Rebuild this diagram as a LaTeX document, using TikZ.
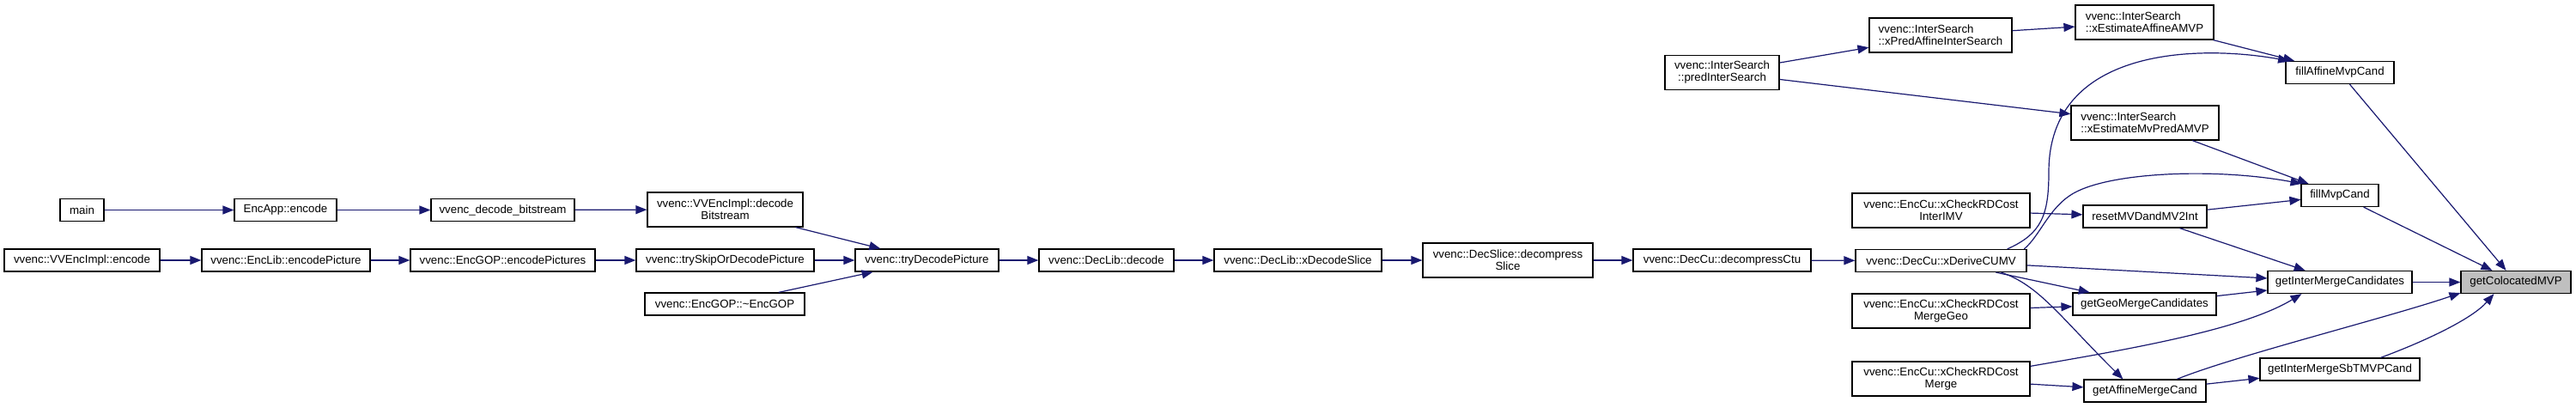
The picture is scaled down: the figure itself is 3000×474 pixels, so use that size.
\documentclass[tikz,border=0pt]{standalone}
\usepackage{fontspec}
\setmainfont{Liberation Sans}
\usepackage{tikz}
\usetikzlibrary{arrows.meta}
\definecolor{edgeblue}{HTML}{191970}
\definecolor{hitgray}{HTML}{BFBFBF}
\begin{document}
\begin{tikzpicture}[x=1pt, y=1pt, >={Triangle[length=13pt,width=10pt]},
  every node/.style={font=\fontsize{13.3}{14}\selectfont},
  fn/.style={draw=black, line width=1.2pt, fill=white, inner sep=0pt, minimum height=26pt, minimum width=#1pt},
  fn2/.style={fn=#1, minimum height=40pt, align=center},
  call/.style={->, draw=edgeblue, line width=1.2pt}]
\path[use as bounding box, fill=white] (0,0) rectangle (3000,-474);
\node[fn=51] (main) at (95.5,-244.5) {main};
\node[fn=119] (app) at (332.5,-244.5) {EncApp::encode};
\node[fn=167] (vdb) at (585.5,-244.5) {vvenc\_decode\_bitstream};
\node[fn2=181] (dbs) at (844.5,-244) {vvenc::VVEncImpl::decode\\Bitstream};
\node[fn=181] (vee) at (95.5,-303) {vvenc::VVEncImpl::encode};
\node[fn=196] (epic) at (333,-303) {vvenc::EncLib::encodePicture};
\node[fn=215] (epics) at (585.5,-303) {vvenc::EncGOP::encodePictures};
\node[fn=207] (skip) at (844.5,-303) {vvenc::trySkipOrDecodePicture};
\node[fn=186] (dgop) at (844,-354) {vvenc::EncGOP::\textasciitilde EncGOP};
\node[fn=167] (tdp) at (1079.5,-303) {vvenc::tryDecodePicture};
\node[fn=157] (dec) at (1288.5,-303) {vvenc::DecLib::decode};
\node[fn=195] (xds) at (1511.5,-303) {vvenc::DecLib::xDecodeSlice};
\node[fn2=198] (dsl) at (1756,-303) {vvenc::DecSlice::decompress\\Slice};
\node[fn=207] (ctu) at (2005.5,-303) {vvenc::DecCu::decompressCtu};
\node[fn2=133] (pis) at (2005.5,-84.5) {vvenc::InterSearch\\::predInterSearch};
\node[fn2=166, align=left] (xpa) at (2260,-41) {vvenc::InterSearch\\::xPredAffineInterSearch};
\node[fn2=207] (imv) at (2260.5,-245) {vvenc::EncCu::xCheckRDCost\\InterIMV};
\node[fn=199] (xcu) at (2260.5,-303.5) {vvenc::DecCu::xDeriveCUMV};
\node[fn2=207] (mgeo) at (2260.5,-362) {vvenc::EncCu::xCheckRDCost\\MergeGeo};
\node[fn2=207] (mrg) at (2260.5,-441) {vvenc::EncCu::xCheckRDCost\\Merge};
\node[fn2=161, align=left] (xea) at (2497.5,-26) {vvenc::InterSearch\\::xEstimateAffineAMVP};
\node[fn2=172, align=left] (xem) at (2498,-143) {vvenc::InterSearch\\::xEstimateMvPredAMVP};
\node[fn=144] (rst) at (2498,-252) {resetMVDandMV2Int};
\node[fn=167] (ggm) at (2497.5,-354) {getGeoMergeCandidates};
\node[fn=142] (gam) at (2498,-455) {getAffineMergeCand};
\node[fn=126] (fam) at (2725,-84.5) {fillAffineMvpCand};
\node[fn=90] (fmc) at (2725,-227.5) {fillMvpCand};
\node[fn=168] (gim) at (2725,-328.5) {getInterMergeCandidates};
\node[fn=186] (sbt) at (2725,-430) {getInterMergeSbTMVPCand};
\node[fn=128, fill=hitgray] (col) at (2930,-328.5) {getColocatedMVP};
\draw[call] (main) -- (app);
\draw[call] (app) -- (vdb);
\draw[call] (vdb) -- (dbs);
\draw[call] (vee) -- (epic);
\draw[call] (epic) -- (epics);
\draw[call] (epics) -- (skip);
\draw[call] (dbs) -- (tdp);
\draw[call] (skip) -- (tdp);
\draw[call] (dgop) -- (tdp);
\draw[call] (tdp) -- (dec);
\draw[call] (dec) -- (xds);
\draw[call] (xds) -- (dsl);
\draw[call] (dsl) -- (ctu);
\draw[call] (ctu) -- (xcu);
\draw[call] (pis) -- (xpa);
\draw[call] (pis) -- (xem);
\draw[call] (xpa) -- (xea);
\draw[call] (xea) -- (fam);
\draw[call] (xem) -- (fmc);
\draw[call] (imv) -- (rst);
\draw[call] (rst) -- (fmc);
\draw[call] (rst) -- (gim);
\draw[call] (xcu) -- (gim);
\draw[call] (xcu) -- (ggm);
\draw[call] (mgeo) -- (ggm);
\draw[call] (ggm) -- (gim);
\draw[call] (mrg) -- (gam);
\draw[call] (gam) -- (sbt);
\draw[call] (fam) -- (col);
\draw[call] (fmc) -- (col);
\draw[call] (gim) -- (col);
\draw[call] (xcu.10) .. controls (2378,-272) and (2386,-250) .. (2386,-200) .. controls (2386,-55) and (2560,-52) .. (fam.167);
\draw[call] (xcu.8) .. controls (2375,-275) and (2385,-245) .. (2410,-228) .. controls (2450,-200) and (2580,-195) .. (fmc.163);
\draw[call] (xcu.349) .. controls (2375,-332) and (2400,-370) .. (gam.152);
\draw[call] (mrg.8) .. controls (2470,-408) and (2610,-385) .. (gim.197);
\draw[call] (gam.20) .. controls (2600,-415) and (2780,-370) .. (col.191);
\draw[call] (sbt.16) .. controls (2830,-395) and (2880,-370) .. (col.208);
\end{tikzpicture}
\end{document}
